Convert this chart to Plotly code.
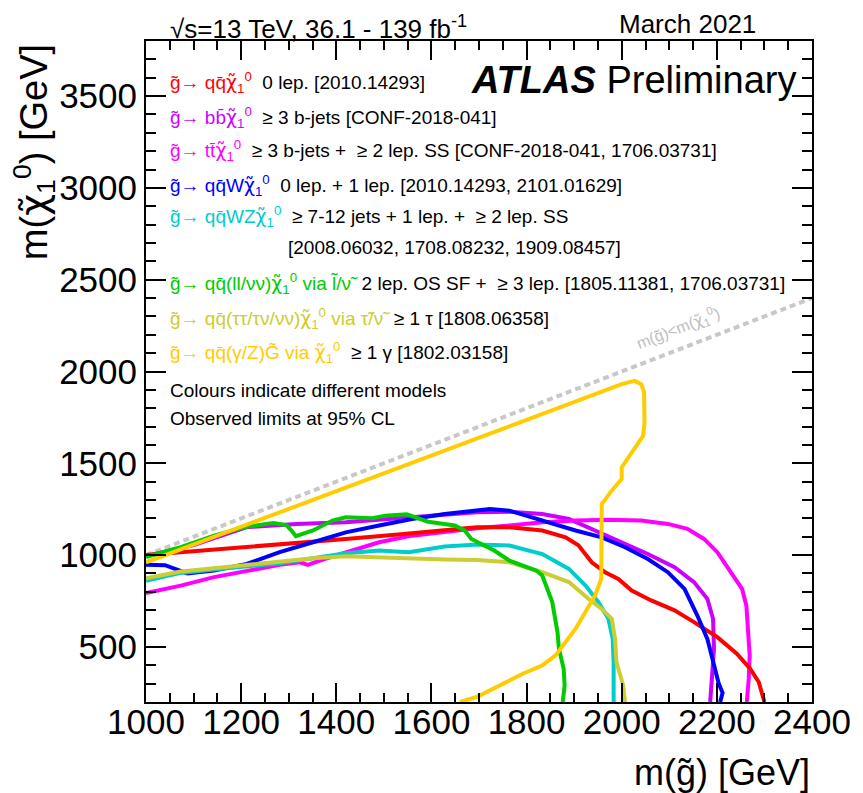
import plotly.graph_objects as go

# ---------------- data ----------------
red_x = [1000, 1100, 1212, 1300, 1420, 1530, 1628, 1695, 1764, 1833, 1882, 1909, 1937, 1965, 1993, 2021, 2062, 2111, 2152, 2201, 2242, 2270, 2288, 2300]
red_y = [1000, 1020, 1043, 1062, 1088, 1112, 1137, 1152, 1152, 1134, 1097, 1054, 961, 907, 870, 807, 753, 699, 635, 553, 463, 381, 309, 200]

purple_x = [1000, 1100, 1212, 1316, 1420, 1559, 1695, 1764, 1833, 1889, 1937, 1993, 2055, 2111, 2152, 2180, 2192, 2194, 2190, 2186]
purple_y = [995, 1055, 1152, 1170, 1179, 1206, 1233, 1236, 1224, 1197, 1143, 1079, 1006, 934, 853, 762, 653, 490, 363, 200]

magenta_x = [1000, 1073, 1143, 1212, 1281, 1323, 1340, 1372, 1420, 1490, 1559, 1628, 1695, 1764, 1833, 1903, 1972, 2041, 2097, 2138, 2173, 2201, 2229, 2253, 2262, 2265, 2269, 2267, 2263]
magenta_y = [793, 834, 880, 916, 947, 961, 947, 976, 1016, 1070, 1106, 1128, 1146, 1161, 1179, 1188, 1192, 1188, 1170, 1143, 1088, 1016, 907, 816, 726, 581, 454, 327, 200]

blue_x = [1000, 1040, 1087, 1143, 1212, 1281, 1351, 1420, 1490, 1559, 1628, 1697, 1723, 1764, 1833, 1903, 1958, 2007, 2055, 2097, 2132, 2159, 2180, 2194, 2204, 2212, 2207]
blue_y = [948, 945, 900, 916, 952, 1016, 1070, 1124, 1161, 1197, 1224, 1246, 1251, 1242, 1188, 1134, 1097, 1043, 979, 907, 816, 671, 544, 400, 300, 250, 200]

cyan_x = [1000, 1073, 1143, 1212, 1281, 1351, 1420, 1490, 1552, 1628, 1697, 1764, 1833, 1889, 1924, 1951, 1972, 1981, 1983, 1983]
cyan_y = [860, 903, 921, 940, 956, 983, 1010, 1025, 1016, 1047, 1058, 1052, 1006, 925, 834, 744, 653, 544, 417, 200]

olive_x = [1000, 1073, 1143, 1212, 1281, 1351, 1420, 1490, 1559, 1628, 1695, 1764, 1833, 1889, 1930, 1958, 1979, 1986, 1989, 2003, 2007]
olive_y = [874, 911, 929, 947, 965, 983, 994, 988, 979, 976, 973, 961, 907, 853, 762, 707, 653, 544, 417, 291, 200]

green_x = [1000, 1073, 1143, 1212, 1268, 1295, 1306, 1315, 1351, 1392, 1420, 1476, 1503, 1548, 1593, 1649, 1670, 1684, 1711, 1732, 1764, 1820, 1833, 1854, 1865, 1868, 1878, 1880, 1876]
green_y = [990, 1043, 1106, 1155, 1175, 1164, 1134, 1103, 1134, 1188, 1206, 1201, 1215, 1222, 1182, 1161, 1134, 1088, 1052, 1025, 970, 916, 889, 744, 581, 490, 381, 291, 200]

gold_x = [1000, 2000, 2027, 2041, 2047, 2048, 2045, 2021, 2000, 2000, 1979, 1958, 1957, 1957, 1944, 1924, 1903, 1861, 1833, 1792, 1736, 1695, 1660]
gold_y = [960, 1931, 1949, 1931, 1886, 1723, 1650, 1559, 1478, 1414, 1351, 1278, 1088, 870, 780, 689, 599, 454, 399, 354, 282, 227, 200]

diag_x = [1000, 2400]
diag_y = [1000, 2400]

x_range = [1000, 2400]
y_range = [200, 3800]

G = "g\u0303"
CHI = "<span style='font-family:DejaVu Sans'>\u03c7\u0303</span><sub>1</sub><sup>0</sup>"
QQ = "q" + "q\u0304"
legend_entries = [
    ("#FF0000", f"{G}\u2192 {QQ}{CHI}", "0 lep. [2010.14293]"),
    ("#CC00FF", f"{G}\u2192 bb\u0304{CHI}", "\u2265 3 b-jets [CONF-2018-041]"),
    ("#FF00FF", f"{G}\u2192 tt\u0304{CHI}", "\u2265 3 b-jets +  \u2265 2 lep. SS [CONF-2018-041, 1706.03731]"),
    ("#0000FF", f"{G}\u2192 {QQ}W{CHI}", "0 lep. + 1 lep. [2010.14293, 2101.01629]"),
    ("#00CCCC", f"{G}\u2192 {QQ}WZ{CHI}", "\u2265 7-12 jets + 1 lep. +  \u2265 2 lep. SS"),
    ("#00CC00", f"{G}\u2192 {QQ}(ll/\u03bd\u03bd){CHI} via l\u0303/\u03bd\u0303", "2 lep. OS SF +  \u2265 3 lep. [1805.11381, 1706.03731]"),
    ("#CCCC33", f"{G}\u2192 {QQ}(\u03c4\u03c4/\u03c4\u03bd/\u03bd\u03bd){CHI} via \u03c4\u0303/\u03bd\u0303", "\u2265 1 \u03c4 [1808.06358]"),
    ("#FFCC00", f"{G}\u2192 {QQ}(\u03b3/Z)G\u0303 via {CHI}", "\u2265 1 \u03b3 [1802.03158]"),
]
legend_y_px = [83, 117, 151, 185, 216, 283, 318, 352]
refs_cont = "[2008.06032, 1708.08232, 1909.08457]"

FONT = "Liberation Sans, Arial, Helvetica, sans-serif"

fig = go.Figure()

fig.add_trace(go.Scatter(x=diag_x, y=diag_y, mode="lines",
                         line=dict(color="#C8C8C8", width=4, dash="6px,4px"),
                         hoverinfo="skip", showlegend=False))

curves = [
    (purple_x, purple_y, "#CC00FF"),
    (magenta_x, magenta_y, "#FF00FF"),
    (red_x, red_y, "#FF0000"),
    (blue_x, blue_y, "#0000FF"),
    (cyan_x, cyan_y, "#00CCCC"),
    (olive_x, olive_y, "#CCCC33"),
    (green_x, green_y, "#00CC00"),
    (gold_x, gold_y, "#FFCC00"),
]
for cx, cy, col in curves:
    fig.add_trace(go.Scatter(x=cx, y=cy, mode="lines",
                             line=dict(color=col, width=4),
                             showlegend=False))

# page layout (browser body has an 8px margin)
OFF = 8
PL, PR, PT, PB = 146, 819, 41, 702      # plot area in page pixels
W, H = 855, 785
L, T = PL - OFF, PT - OFF
R = OFF + W - PR
B = OFF + H - PB
pw, ph = PR - PL, PB - PT


def px(xp):
    return (xp - PL) / pw


def py(yp):
    return (PB - yp) / ph


ann = []
for (col, lab, desc), yp in zip(legend_entries, legend_y_px):
    ann.append(dict(xref="paper", yref="paper", x=px(168), y=py(yp),
                    xanchor="left", yanchor="middle", showarrow=False,
                    text=f"<span style='color:{col}'>{lab}</span>  {desc}",
                    font=dict(size=19, color="black", family=FONT)))
ann.append(dict(xref="paper", yref="paper", x=px(287), y=py(248),
                xanchor="left", yanchor="middle", showarrow=False,
                text=refs_cont, font=dict(size=19, color="black", family=FONT)))
ann.append(dict(xref="paper", yref="paper", x=px(168), y=py(390),
                xanchor="left", yanchor="middle", showarrow=False,
                text="Colours indicate different models",
                font=dict(size=19, color="black", family=FONT)))
ann.append(dict(xref="paper", yref="paper", x=px(168), y=py(418),
                xanchor="left", yanchor="middle", showarrow=False,
                text="Observed limits at 95% CL",
                font=dict(size=19, color="black", family=FONT)))
# top labels
ann.append(dict(xref="paper", yref="paper", x=px(168), y=py(27),
                xanchor="left", yanchor="middle", showarrow=False,
                text="\u221as=13 TeV, 36.1 - 139 fb<sup>-1</sup>",
                font=dict(size=26, color="black", family=FONT)))
ann.append(dict(xref="paper", yref="paper", x=px(764), y=py(24),
                xanchor="right", yanchor="middle", showarrow=False,
                text="March 2021",
                font=dict(size=26, color="black", family=FONT)))
ann.append(dict(xref="paper", yref="paper", x=px(805), y=py(80),
                xanchor="right", yanchor="middle", showarrow=False,
                text="<b><i>ATLAS</i></b> Preliminary",
                font=dict(size=38, color="black", family=FONT)))
# diagonal label
ann.append(dict(xref="x", yref="y", x=2119, y=2239, showarrow=False,
                textangle=-21, xanchor="center", yanchor="middle",
                text=f"m({G})&lt;m({CHI})",
                font=dict(size=16, color="#BEBEBE", family=FONT)))
# axis titles
ann.append(dict(xref="paper", yref="paper", x=px(819), y=py(772),
                xanchor="right", yanchor="middle", showarrow=False,
                text=f"m({G}) [GeV]",
                font=dict(size=36, color="black", family=FONT)))
ann.append(dict(xref="paper", yref="paper", x=px(33), y=py(152),
                xanchor="center", yanchor="middle", showarrow=False,
                textangle=-90,
                text=f"m({CHI}) [GeV]",
                font=dict(size=38, color="black", family=FONT)))

axis_common = dict(showgrid=False, zeroline=False, showline=True,
                   linecolor="black", linewidth=2, mirror="allticks",
                   ticks="inside", tickcolor="black", tickwidth=1.5,
                   tickfont=dict(size=35, color="black", family=FONT))

fig.update_layout(
    width=W, height=H, autosize=False,
    margin=dict(l=L, r=R, t=T, b=B, pad=0),
    paper_bgcolor="white", plot_bgcolor="white",
    showlegend=False,
    annotations=ann,
    xaxis=dict(range=x_range, tick0=1000, dtick=200, ticklen=19,
               ticklabelstandoff=-12,
               minor=dict(dtick=50, ticks="inside", ticklen=9,
                          tickcolor="black", tickwidth=1.5),
               **axis_common),
    yaxis=dict(range=y_range, tick0=500, dtick=500, ticklen=20,
               minor=dict(dtick=100, ticks="inside", ticklen=10,
                          tickcolor="black", tickwidth=1.5),
               **axis_common),
)

fig.write_html("out.html")
